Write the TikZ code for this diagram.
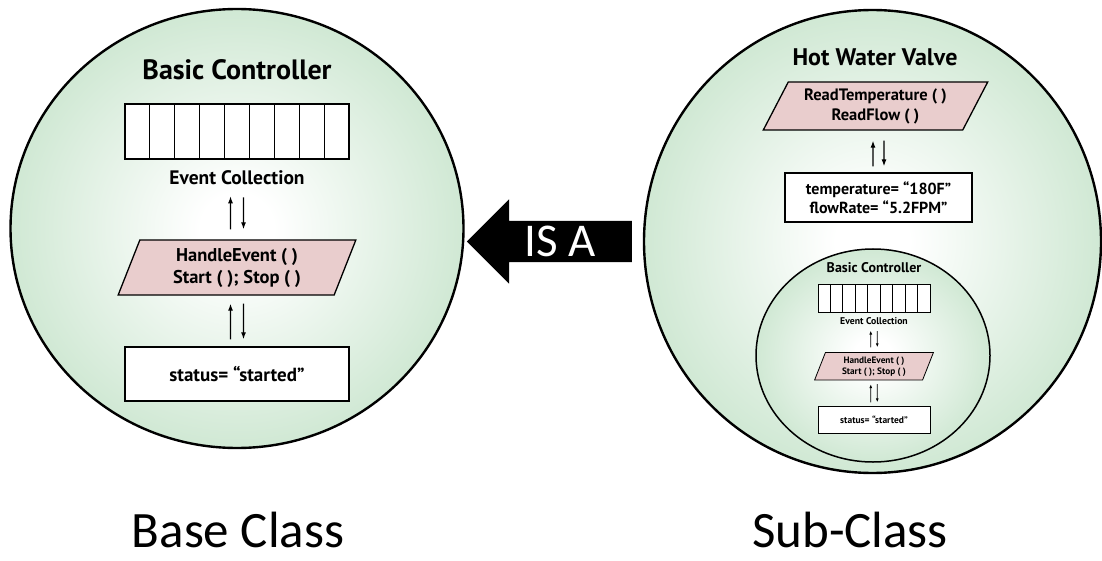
\documentclass[tikz,border=0pt]{standalone}
\usepackage{fontspec}
\setmainfont{Carlito}
\newfontfamily\diagfont{PT Sans}
\usetikzlibrary{positioning,arrows.meta,shapes.geometric,shapes.arrows,calc}
\definecolor{ballgreen}{RGB}{168,213,175}
\definecolor{methodpink}{RGB}{233,205,205}
\pgfdeclareradialshading{greenball}{\pgfpointorigin}{color(0bp)=(white); color(4bp)=(white); color(43bp)=(ballgreen); color(50bp)=(ballgreen)}

\begin{document}
\begin{tikzpicture}[
    x=1pt, y=-1pt,
    font=\diagfont,
    ball/.style={draw, ellipse, line width=2.4pt, shade, shading=greenball, inner sep=0pt},
    ctitle/.style={font=\diagfont\bfseries\fontsize{28}{32}\selectfont, inner sep=0pt},
    qname/.style={font=\diagfont\bfseries\fontsize{19.5}{22}\selectfont, inner sep=0pt},
    queue/.style={draw, fill=white, line width=1.3pt, minimum width=224pt, minimum height=55pt, inner sep=0pt},
    divider/.style={line width=1.3pt},
    box/.style={draw, fill=white, line width=1.3pt, align=center, inner sep=0pt,
                font=\diagfont\bfseries\fontsize{19}{22}\selectfont},
    method/.style={draw, trapezium, trapezium stretches, fill=methodpink, line width=1.3pt,
                   align=center, inner sep=0pt, font=\diagfont\bfseries\fontsize{18.5}{22}\selectfont},
    arr/.style={-{Latex[length=7pt,width=5pt]}, line width=1.2pt},
    caption/.style={font=\fontsize{51}{58}\selectfont, inner sep=0pt},
    isaarrow/.style={single arrow, shape border rotate=180, fill=black, text=white,
                     minimum height=165pt, single arrow head extend=21.5pt,
                     text height=31pt, text depth=0pt, inner ysep=5pt,
                     font=\fontsize{47}{50}\selectfont}
]
\useasboundingbox (0,0) rectangle (1102,561);

% base class
\node[ball, minimum width=453pt, minimum height=439pt] (base) at (237,228.5) {};
\begin{scope}[shift={(237,229)}]
\node[ctitle] (btitle) at (0,-159) {Basic Controller};
\node[queue] (bqueue) at (0,-97.5) {};
\foreach \k in {1,...,8}
  \draw[divider] ($(bqueue.north west)!\k/9!(bqueue.north east)$) -- ($(bqueue.south west)!\k/9!(bqueue.south east)$);
\node[qname] (bqname) at (0,-51) {Event Collection};
\node[method, minimum width=238pt, minimum height=55pt, trapezium left angle=70, trapezium right angle=110]
     (bops) at (0,38.5) {HandleEvent ( )\\Start ( ); Stop ( )};
\node[box, minimum width=224pt, minimum height=54pt] (bstate) at (0,145) {status= “started”};
\draw[arr] ($(bops.north)+(-6.5,-10)$) -- ($(bqname.south)+(-6.5,11)$);
\draw[arr] ($(bqname.south)+(6.5,12)$) -- ($(bops.north)+(6.5,-10)$);
\draw[arr] ($(bstate.north)+(-6.5,-7)$) -- ($(bops.south)+(-6.5,8)$);
\draw[arr] ($(bops.south)+(6.5,8)$) -- ($(bstate.north)+(6.5,-7)$);
\end{scope}

% sub class
\node[ball, minimum width=457pt, minimum height=463pt] (sub) at (872.5,241.5) {};
\node[ctitle, font=\diagfont\bfseries\fontsize{24}{28}\selectfont] (valve) at (875,57) {Hot Water Valve};
\node[method, minimum width=225pt, minimum height=48pt, trapezium left angle=60, trapezium right angle=120,
      font=\diagfont\bfseries\fontsize{16.5}{20}\selectfont] (readops) at (875.5,106) {ReadTemperature ( )\\ReadFlow ( )};
\node[box, minimum width=187pt, minimum height=49pt, font=\diagfont\bfseries\fontsize{16}{19}\selectfont]
     (vars) at (878.5,197.5) {temperature= “180F”\\flowRate= “5.2FPM”};
\draw[arr] ($(vars.north)+(-5.5,-6)$) -- ($(readops.south)+(-2.5,10)$);
\draw[arr] ($(readops.south)+(8.5,10)$) -- ($(vars.north)+(5.5,-6)$);
\node[ball, line width=1.5pt, minimum width=234pt, minimum height=213pt] (inner) at (873,355.5) {};
\begin{scope}[shift={(874,347)}, scale=0.5, transform shape,
    queue/.append style={line width=0.8pt}, divider/.style={line width=0.8pt},
    box/.append style={line width=0.8pt}, method/.append style={line width=0.8pt},
    arr/.style={-{Latex[length=4pt,width=3pt]}, line width=0.8pt}]
\node[ctitle] (ititle) at (0,-159) {Basic Controller};
\node[queue] (iqueue) at (0,-97.5) {};
\foreach \k in {1,...,8}
  \draw[divider] ($(iqueue.north west)!\k/9!(iqueue.north east)$) -- ($(iqueue.south west)!\k/9!(iqueue.south east)$);
\node[qname] (iqname) at (0,-51) {Event Collection};
\node[method, minimum width=238pt, minimum height=55pt, trapezium left angle=70, trapezium right angle=110]
     (iops) at (0,38.5) {HandleEvent ( )\\Start ( ); Stop ( )};
\node[box, minimum width=224pt, minimum height=54pt] (istate) at (0,145) {status= “started”};
\draw[arr] ($(iops.north)+(-6.5,-10)$) -- ($(iqname.south)+(-6.5,11)$);
\draw[arr] ($(iqname.south)+(6.5,12)$) -- ($(iops.north)+(6.5,-10)$);
\draw[arr] ($(istate.north)+(-6.5,-7)$) -- ($(iops.south)+(-6.5,8)$);
\draw[arr] ($(iops.south)+(6.5,8)$) -- ($(istate.north)+(6.5,-7)$);
\end{scope}

% is-a link
\node[isaarrow, anchor=tip] (isa) at ([xshift=2pt]base.east |- sub.west) {IS A};

\node[caption, anchor=base] (basecap) at (238,547) {Base Class};
\node[caption, anchor=base] (subcap) at (850,547) {Sub-Class};
\end{tikzpicture}
\end{document}
